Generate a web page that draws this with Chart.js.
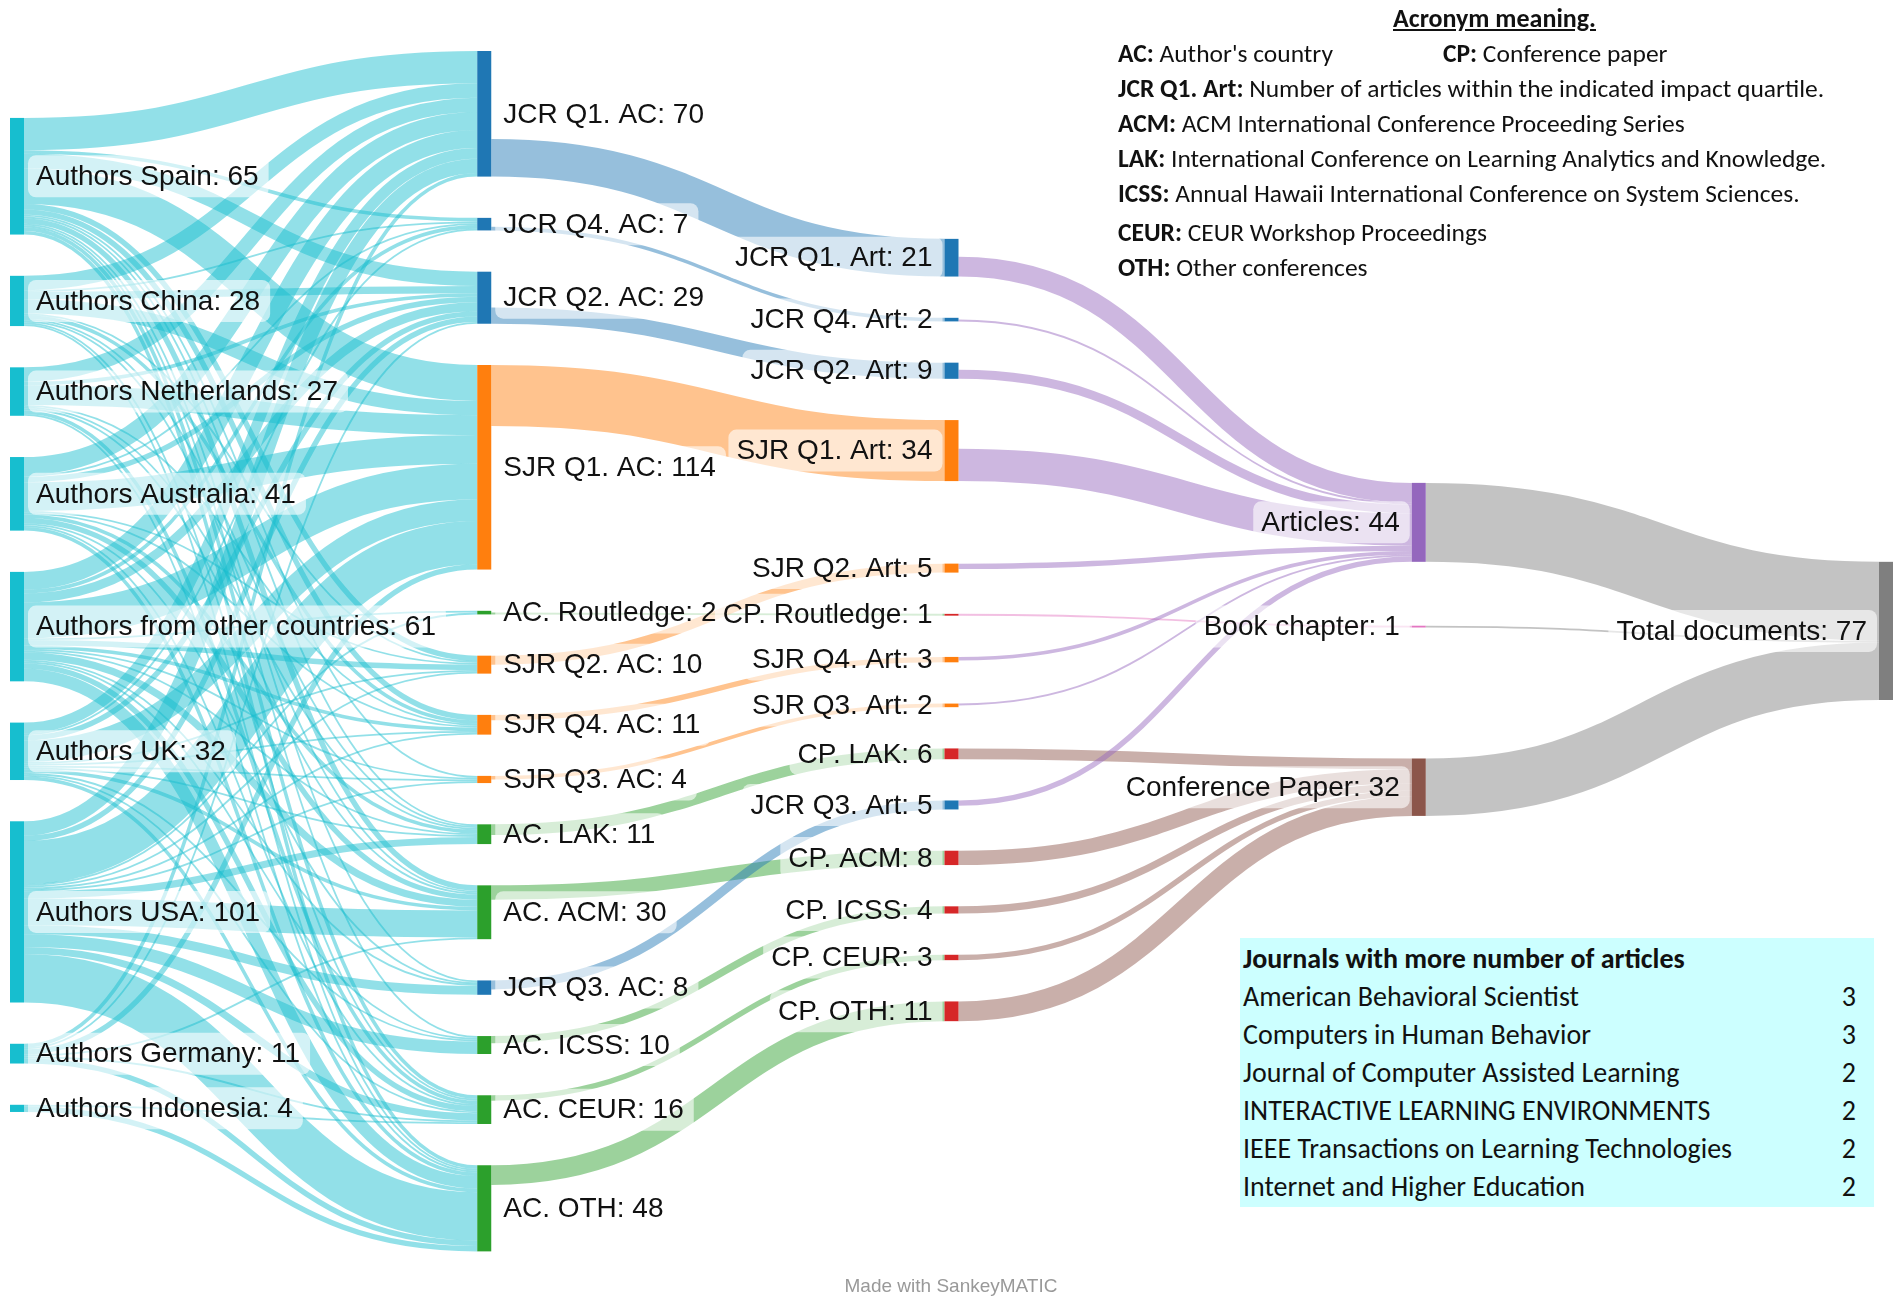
<!DOCTYPE html>
<html lang="en">
<head>
<meta charset="UTF-8">
<title>Documents by author country - Sankey</title>
<script src="https://cdn.jsdelivr.net/npm/chart.js"></script>
<style>
    body { margin: 0; background: #fff; }
    #wrap { position: relative; width: 1902px; height: 1307px; overflow: hidden; }
    #chart { position: absolute; left: 0; top: 0; }
    .note { position: absolute; font-family: Calibri, Carlito, Lato, sans-serif; color: #111; white-space: nowrap; }
    #acronymTitle { left: 1393px; top: 3px; font-size: 26px; font-weight: bold; text-decoration: underline; line-height: 30px; }
    #acronyms { left: 1118px; top: 36px; font-size: 25.5px; line-height: 35px; }
    #acronyms .row { position: relative; }
    #acronyms .second { position: absolute; left: 325px; top: 0; }
    #journals { left: 1240px; top: 938px; width: 634px; height: 269px; padding-top: 2px; box-sizing: border-box;
                background: #ccffff; font-size: 28px; line-height: 38px; }
    #journals .row { display: flex; justify-content: space-between; padding: 0 18px 0 3px; }
    #credit { position: absolute; left: 751px; width: 400px; top: 1275px; text-align: center;
              font: 19px "Liberation Sans", Arial, sans-serif; color: #999; }
</style>
</head>
<body>
<div id="wrap">
    <canvas id="chart" width="1902" height="1307"></canvas>
    <div class="note" id="acronymTitle">Acronym meaning.</div>
    <div class="note" id="acronyms"></div>
    <div class="note" id="journals"></div>
    <div id="credit">Made with SankeyMATIC</div>
</div>

<script>
    // ---- data ----
    const countries = ['Authors Spain', 'Authors China', 'Authors Netherlands', 'Authors Australia',
        'Authors from other countries', 'Authors UK', 'Authors USA', 'Authors Germany', 'Authors Indonesia'];

    const acNodes = ['JCR Q1. AC', 'JCR Q4. AC', 'JCR Q2. AC', 'SJR Q1. AC', 'AC. Routledge', 'SJR Q2. AC',
        'SJR Q4. AC', 'SJR Q3. AC', 'AC. LAK', 'AC. ACM', 'JCR Q3. AC', 'AC. ICSS', 'AC. CEUR', 'AC. OTH'];

    // rows follow countries, columns follow acNodes
    const authorFlows = [
        [18, 2, 8, 20, 0, 3, 3, 1, 1, 3, 1, 1, 2, 2],
        [8, 1, 4, 8, 0, 1, 2, 0, 1, 1, 0, 0, 1, 1],
        [8, 0, 2, 11, 0, 0, 1, 0, 1, 1, 0, 0, 2, 1],
        [10, 1, 3, 16, 0, 1, 1, 0, 2, 3, 1, 0, 1, 2],
        [10, 2, 5, 20, 1, 3, 2, 1, 1, 4, 1, 1, 3, 7],
        [6, 1, 3, 12, 0, 1, 1, 1, 1, 2, 0, 1, 1, 2],
        [8, 0, 3, 24, 1, 1, 1, 1, 4, 15, 5, 7, 4, 27],
        [2, 0, 1, 3, 0, 0, 0, 0, 0, 1, 0, 0, 1, 3],
        [0, 0, 0, 0, 0, 0, 0, 0, 0, 0, 0, 0, 1, 3]
    ];

    const artNodes = ['JCR Q1. Art', 'JCR Q4. Art', 'JCR Q2. Art', 'SJR Q1. Art', 'SJR Q2. Art', 'CP. Routledge',
        'SJR Q4. Art', 'SJR Q3. Art', 'CP. LAK', 'JCR Q3. Art', 'CP. ACM', 'CP. ICSS', 'CP. CEUR', 'CP. OTH'];

    const acToArt = [
        ['JCR Q1. AC', 'JCR Q1. Art', 21],
        ['JCR Q4. AC', 'JCR Q4. Art', 2],
        ['JCR Q2. AC', 'JCR Q2. Art', 9],
        ['SJR Q1. AC', 'SJR Q1. Art', 34],
        ['AC. Routledge', 'CP. Routledge', 1],
        ['SJR Q2. AC', 'SJR Q2. Art', 5],
        ['SJR Q4. AC', 'SJR Q4. Art', 3],
        ['SJR Q3. AC', 'SJR Q3. Art', 2],
        ['AC. LAK', 'CP. LAK', 6],
        ['AC. ACM', 'CP. ACM', 8],
        ['JCR Q3. AC', 'JCR Q3. Art', 5],
        ['AC. ICSS', 'CP. ICSS', 4],
        ['AC. CEUR', 'CP. CEUR', 3],
        ['AC. OTH', 'CP. OTH', 11]
    ];

    const docTypes = ['Articles', 'Book chapter', 'Conference Paper'];

    const artToDoc = [
        ['JCR Q1. Art', 'Articles', 11],
        ['JCR Q4. Art', 'Articles', 1],
        ['JCR Q2. Art', 'Articles', 5],
        ['SJR Q1. Art', 'Articles', 18],
        ['SJR Q2. Art', 'Articles', 3],
        ['CP. Routledge', 'Book chapter', 1],
        ['SJR Q4. Art', 'Articles', 2],
        ['SJR Q3. Art', 'Articles', 1],
        ['CP. LAK', 'Conference Paper', 6],
        ['JCR Q3. Art', 'Articles', 3],
        ['CP. ACM', 'Conference Paper', 8],
        ['CP. ICSS', 'Conference Paper', 4],
        ['CP. CEUR', 'Conference Paper', 3],
        ['CP. OTH', 'Conference Paper', 11]
    ];

    const totalNode = 'Total documents';
    const docToTotal = [
        ['Articles', totalNode, 44],
        ['Book chapter', totalNode, 1],
        ['Conference Paper', totalNode, 32]
    ];

    const acronymKeys = ['AC:', 'JCR Q1. Art:', 'ACM:', 'LAK:', 'ICSS:', 'CEUR:', 'OTH:'];
    const acronymText = ["Author's country", 'Number of articles within the indicated impact quartile.',
        'ACM International Conference Proceeding Series', 'International Conference on Learning Analytics and Knowledge.',
        'Annual Hawaii International Conference on System Sciences.', 'CEUR Workshop Proceedings', 'Other conferences'];

    const journalNames = ['American Behavioral Scientist', 'Computers in Human Behavior', 'Journal of Computer Assisted Learning',
        'INTERACTIVE LEARNING ENVIRONMENTS', 'IEEE Transactions on Learning Technologies', 'Internet and Higher Education'];
    const journalArticles = [3, 3, 2, 2, 2, 2];

    // ---- layout settings (value units on the y axis) ----
    const layout = {
        gap: 23,
        colTop: [37.3, 0, 104.7, 240.7, 284.7],
        extraGap: { 'SJR Q2. Art': 23, 'Book chapter': 12.6, 'Conference Paper': 50 }
    };
    const NODE_W = 14;
    const FLOW_ALPHA = 0.47;

    function nodeColor(name) {
        if (name.startsWith('Authors')) return '#17becf';
        if (name.startsWith('JCR')) return '#1f77b4';
        if (name.startsWith('SJR')) return '#ff7f0e';
        if (name.startsWith('AC.')) return '#2ca02c';
        if (name.startsWith('CP.')) return '#d62728';
        return { 'Articles': '#9467bd', 'Book chapter': '#e377c2', 'Conference Paper': '#8c564b', 'Total documents': '#7f7f7f' }[name];
    }

    function buildGraph() {
        const links = [];
        countries.forEach((c, i) => authorFlows[i].forEach((v, j) => {
            if (v > 0) links.push({ source: c, target: acNodes[j], value: v });
        }));
        [acToArt, artToDoc, docToTotal].forEach(list =>
            list.forEach(([s, t, v]) => links.push({ source: s, target: t, value: v })));

        const columns = [countries, acNodes, artNodes, docTypes, [totalNode]];
        const nodes = {};
        columns.forEach((col, ci) => {
            let top = layout.colTop[ci];
            col.forEach((name, k) => {
                const inSum = links.filter(l => l.target === name).reduce((a, l) => a + l.value, 0);
                const outSum = links.filter(l => l.source === name).reduce((a, l) => a + l.value, 0);
                const value = Math.max(inSum, outSum);
                if (k > 0) top += layout.gap + (layout.extraGap[name] || 0);
                nodes[name] = { name, col: ci, value, y0: top, y1: top + value };
                top += value;
            });
        });
        links.forEach(l => { l.s = nodes[l.source]; l.t = nodes[l.target]; });

        // stack flows on each node; a partial block leans towards the side its partners are on
        Object.values(nodes).forEach(n => {
            const outs = links.filter(l => l.s === n).sort((a, b) => a.t.y0 - b.t.y0);
            const ins = links.filter(l => l.t === n).sort((a, b) => a.s.y0 - b.s.y0);
            const mid = (n.y0 + n.y1) / 2;
            const place = (list, other, key) => {
                if (!list.length) return;
                const tot = list.reduce((a, l) => a + l.value, 0);
                const avg = list.reduce((a, l) => a + l.value * (l[other].y0 + l[other].y1) / 2, 0) / tot;
                let y = (tot < n.value && avg > mid) ? n.y1 - tot : n.y0;
                list.forEach(l => { l[key] = y + l.value / 2; y += l.value; });
            };
            place(outs, 't', 'sy');
            place(ins, 's', 'ty');
        });
        return { nodes, links };
    }

    function roundRect(ctx, x, y, w, h, r) {
        ctx.beginPath();
        ctx.moveTo(x + r, y);
        ctx.arcTo(x + w, y, x + w, y + h, r);
        ctx.arcTo(x + w, y + h, x, y + h, r);
        ctx.arcTo(x, y + h, x, y, r);
        ctx.arcTo(x, y, x + w, y, r);
        ctx.closePath();
    }

    const sankeyPlugin = {
        id: 'sankey',
        afterDatasetsDraw(chart) {
            const { ctx, scales: { x, y } } = chart;
            const { nodes, links } = buildGraph();
            const unit = Math.abs(y.getPixelForValue(1) - y.getPixelForValue(0));

            ctx.save();
            // flows
            links.forEach(l => {
                const x0 = x.getPixelForValue(l.s.col) + NODE_W;
                const x1 = x.getPixelForValue(l.t.col);
                const y0 = y.getPixelForValue(l.sy);
                const y1 = y.getPixelForValue(l.ty);
                const xm = (x0 + x1) / 2;
                ctx.globalAlpha = FLOW_ALPHA;
                ctx.strokeStyle = l.s.col < 2 ? nodeColor(l.source) : nodeColor(l.target);
                ctx.lineWidth = l.value * unit;
                ctx.lineCap = 'butt';
                ctx.beginPath();
                ctx.moveTo(x0, y0);
                ctx.bezierCurveTo(xm, y0, xm, y1, x1, y1);
                ctx.stroke();
            });
            ctx.globalAlpha = 1;

            // nodes
            Object.values(nodes).forEach(n => {
                const top = y.getPixelForValue(n.y0);
                const bottom = y.getPixelForValue(n.y1);
                ctx.fillStyle = nodeColor(n.name);
                ctx.fillRect(x.getPixelForValue(n.col), top, NODE_W, bottom - top);
            });

            // labels
            ctx.font = '28px "Liberation Sans", Arial, sans-serif';
            ctx.textBaseline = 'middle';
            ctx.textAlign = 'left';
            Object.values(nodes).forEach(n => {
                const text = n.name + ': ' + n.value;
                const w = ctx.measureText(text).width;
                const mid = y.getPixelForValue((n.y0 + n.y1) / 2);
                const left = n.col < 2 ? x.getPixelForValue(n.col) + NODE_W + 12
                                       : x.getPixelForValue(n.col) - 12 - w;
                ctx.fillStyle = 'rgba(255,255,255,0.6)';
                roundRect(ctx, left - 8, mid - 21, w + 18, 42, 8);
                ctx.fill();
                ctx.fillStyle = '#111';
                ctx.fillText(text, left, mid + 1);
            });
            ctx.restore();
        }
    };

    new Chart(document.getElementById('chart').getContext('2d'), {
        type: 'scatter',
        data: { datasets: [] },
        options: {
            responsive: false,
            animation: false,
            layout: { padding: { left: 10, right: 23, top: 51, bottom: 0 } },
            scales: {
                x: { type: 'linear', min: 0, max: 4, display: false },
                y: { type: 'linear', min: 0, max: 700, reverse: true, display: false }
            },
            plugins: { legend: { display: false }, tooltip: { enabled: false } }
        },
        plugins: [sankeyPlugin]
    });

    // ---- notes ----
    const acr = document.getElementById('acronyms');
    acronymKeys.forEach((k, i) => {
        const row = document.createElement('div');
        row.className = 'row';
        if (k === 'CEUR:') row.style.marginTop = '4px';
        row.innerHTML = '<b>' + k + '</b> ' + acronymText[i];
        if (i === 0) row.innerHTML += '<span class="second"><b>CP:</b> Conference paper</span>';
        acr.appendChild(row);
    });

    const jr = document.getElementById('journals');
    jr.innerHTML = '<div class="row"><b>Journals with more number of articles</b></div>';
    journalNames.forEach((name, i) => {
        const row = document.createElement('div');
        row.className = 'row';
        row.innerHTML = '<span>' + name + '</span><span>' + journalArticles[i] + '</span>';
        jr.appendChild(row);
    });
</script>
</body>
</html>
